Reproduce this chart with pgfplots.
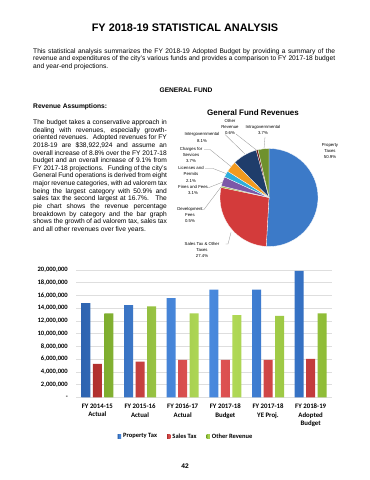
\documentclass[border=0pt]{standalone}
\usepackage{fontspec}
\setmainfont{Liberation Sans}
\newfontfamily\calfont{Carlito}
\usepackage{pgfplots}
\usepackage{pgfplotstable}
\pgfplotsset{compat=1.18}
\definecolor{pbluedark}{HTML}{2E64B0}
\definecolor{pbluemid}{HTML}{4C8DE2}
\definecolor{pblueright}{HTML}{3470C2}
\definecolor{sreddark}{HTML}{B0302E}
\definecolor{sredmid}{HTML}{E25656}
\definecolor{sredright}{HTML}{C23B3B}
\definecolor{ogreendark}{HTML}{7EAD2E}
\definecolor{ogreenmid}{HTML}{B6DD5C}
\definecolor{ogreenright}{HTML}{8EBC36}
\definecolor{pieblue}{HTML}{3C7AC8}
\definecolor{piered}{HTML}{D33B3B}
\definecolor{piedev}{HTML}{A3B84A}
\definecolor{piepurple}{HTML}{7C58A8}
\definecolor{piecyan}{HTML}{2FAEDC}
\definecolor{pieorange}{HTML}{F39A1F}
\definecolor{pienavy}{HTML}{1F3D6B}
\definecolor{piebrown}{HTML}{6E1F1C}
\definecolor{piegreen}{HTML}{6F912D}
\definecolor{gridgray}{HTML}{DEDEDE}
\definecolor{leadgray}{HTML}{909090}

\pgfplotstableread{
x prop sales other
0 14800000 5250000 13200000
1 14500000 5600000 14300000
2 15600000 5870000 13200000
3 16900000 5870000 12900000
4 16900000 5870000 12800000
5 19850000 6030000 13200000
}\bardata

\newcommand\bodyfont{\fontsize{6.65}{7.64}\selectfont}
\newcommand\wl[2]{\node[anchor=base west,inner sep=0pt,font=\bodyfont] at (33,{426.8-7.64*#1}) {\makebox[302pt][s]{#2}};}
\newcommand\wlast[2]{\node[anchor=base west,inner sep=0pt,font=\bodyfont] at (33,{426.8-7.64*#1}) {#2};}
\newcommand\pl[2]{\node[anchor=base west,inner sep=0pt,font=\bodyfont] at (33,{355.5-7.64*#1}) {\makebox[133.7pt][s]{#2}};}
\newcommand\plast[2]{\node[anchor=base west,inner sep=0pt,font=\bodyfont] at (33,{355.5-7.64*#1}) {#2};}
\newcommand\pielab[3]{\node[align=center,inner sep=0pt,font=\fontsize{4.3}{6.2}\selectfont] at (#1,#2) {#3};}

\begin{document}
\begin{tikzpicture}
\begin{scope}[x=1pt,y=1pt]
\useasboundingbox (0,0) rectangle (370,480);
\fill[white] (0,0) rectangle (370,480);
% title
\node[anchor=base,inner sep=0pt,font=\fontsize{10.9}{13}\selectfont\bfseries] at (185,448) {FY 2018-19 STATISTICAL ANALYSIS};
% intro paragraph
\wl{0}{This statistical analysis summarizes the FY 2018-19 Adopted Budget by providing a summary of the}
\wl{1}{revenue and expenditures of the city's various funds and provides a comparison to FY 2017-18 budget}
\wlast{2}{and year-end projections.}
\node[anchor=base,inner sep=0pt,font=\bodyfont\bfseries] at (186,387) {GENERAL FUND};
\node[anchor=base west,inner sep=0pt,font=\bodyfont\bfseries] at (33,371) {Revenue Assumptions:};
% left paragraph
\pl{0}{The budget takes a conservative approach in}
\pl{1}{dealing with revenues, especially growth-}
\pl{2}{oriented revenues. \ Adopted revenues for FY}
\pl{3}{2018-19 are \$38,922,924 and assume an}
\pl{4}{overall increase of 8.8\% over the FY 2017-18}
\pl{5}{budget and an overall increase of 9.1\% from}
\pl{6}{FY 2017-18 projections. \ Funding of the city's}
\pl{7}{General Fund operations is derived from eight}
\pl{8}{major revenue categories, with ad valorem tax}
\pl{9}{being the largest category with 50.9\% and}
\pl{10}{sales tax the second largest at 16.7\%. \ The}
\pl{11}{pie chart shows the revenue percentage}
\pl{12}{breakdown by category and the bar graph}
\pl{13}{shows the growth of ad valorem tax, sales tax}
\plast{14}{and all other revenues over five years.}
\node[anchor=base,inner sep=0pt,font=\fontsize{8}{9}\selectfont\bfseries] at (253,364.4) {General Fund Revenues};
\end{scope}

% pie chart
\begin{axis}[at={(269pt,282.5pt)}, anchor=center, width=98pt, height=98pt, scale only axis,
  hide axis, xmin=-1, xmax=1, ymin=-1, ymax=1, clip=false]
\fill[pieblue,draw=white,line width=0.3pt] (axis cs:0,0) -- ++(90:49pt) arc[start angle=90,end angle=-93.24,radius=49pt] -- cycle;
\fill[piered,draw=white,line width=0.3pt] (axis cs:0,0) -- ++(-93.24:49pt) arc[start angle=-93.24,end angle=-191.88,radius=49pt] -- cycle;
\fill[piedev,draw=white,line width=0.2pt] (axis cs:0,0) -- ++(-191.88:49pt) arc[start angle=-191.88,end angle=-193.68,radius=49pt] -- cycle;
\fill[piepurple,draw=white,line width=0.3pt] (axis cs:0,0) -- ++(-193.68:49pt) arc[start angle=-193.68,end angle=-204.84,radius=49pt] -- cycle;
\fill[piecyan,draw=white,line width=0.3pt] (axis cs:0,0) -- ++(-204.84:49pt) arc[start angle=-204.84,end angle=-212.4,radius=49pt] -- cycle;
\fill[pieorange,draw=white,line width=0.3pt] (axis cs:0,0) -- ++(-212.4:49pt) arc[start angle=-212.4,end angle=-225.72,radius=49pt] -- cycle;
\fill[pienavy,draw=white,line width=0.3pt] (axis cs:0,0) -- ++(-225.72:49pt) arc[start angle=-225.72,end angle=-254.88,radius=49pt] -- cycle;
\fill[piebrown,draw=white,line width=0.2pt] (axis cs:0,0) -- ++(-254.88:49pt) arc[start angle=-254.88,end angle=-257.04,radius=49pt] -- cycle;
\fill[piegreen,draw=white,line width=0.3pt] (axis cs:0,0) -- ++(-257.04:49pt) arc[start angle=-257.04,end angle=-270,radius=49pt] -- cycle;
\end{axis}

\begin{scope}[x=1pt,y=1pt]
% pie labels
\pielab{230}{353}{Other\\Revenue\\0.6\%}
\pielab{263}{350}{Intragovernmental\\3.7\%}
\pielab{202}{342.5}{Intergovernmental\\8.1\%}
\pielab{191}{325}{Charges for\\Services\\3.7\%}
\pielab{191}{305.7}{Licenses and\\Permits\\2.1\%}
\pielab{193}{289.7}{Fines and Fees\\3.1\%}
\pielab{190}{265}{Development\\Fees\\0.5\%}
\pielab{202}{230.3}{Sales Tax \& Other\\Taxes\\27.4\%}
\pielab{330}{328.7}{Property\\Taxes\\50.9\%}
% leader lines
\begin{scope}[leadgray,line width=0.3pt]
\draw (225.5,236) -- (228,236) -- (231,247.5);
\draw (202,270.5) -- (204,270.5) -- (221,293);
\draw (207,292.5) -- (209,292.5) -- (223,298);
\draw (205,311.5) -- (213,311.5) -- (226,306.5);
\draw (204,330.5) -- (210,330.5) -- (231,313.5);
\draw (225,345.5) -- (245,326);
\draw (236,346) -- (257,329.5);
\draw (265,343) -- (264,331.5);
\end{scope}
% page number
\node[anchor=base,inner sep=0pt,font=\bodyfont\bfseries] at (185,12) {42};
\end{scope}

% bar chart
\begin{axis}[at={(76pt,82.7pt)}, anchor=south west, width=256pt, height=127.3pt, scale only axis,
  ybar=2.5pt, bar width=9pt,
  xmin=-0.5, xmax=5.5, ymin=0, ymax=20000000,
  ytick={0,2000000,4000000,6000000,8000000,10000000,12000000,14000000,16000000,18000000,20000000},
  yticklabels={{-},{2,000,000},{4,000,000},{6,000,000},{8,000,000},{10,000,000},{12,000,000},{14,000,000},{16,000,000},{18,000,000},{20,000,000}},
  scaled y ticks=false,
  ymajorgrids, grid style={gridgray,line width=0.5pt},
  axis line style={draw=none}, major tick length=0pt,
  xtick=data,
  xticklabels={{FY 2014-15\\Actual},{FY 2015-16\\Actual},{FY 2016-17\\Actual},{FY 2017-18\\Budget},{FY 2017-18\\YE Proj.},{FY 2018-19\\Adopted\\Budget}},
  xticklabel style={align=center,anchor=north,inner sep=0pt,yshift=-6.7pt,font=\calfont\bfseries\fontsize{6.8}{8.2}\selectfont},
  yticklabel style={anchor=east,inner sep=0pt,xshift=-8pt,font=\calfont\bfseries\fontsize{6.6}{7}\selectfont},
  legend style={at={(0.43,-0.309)},anchor=center,draw=none,fill=none,legend columns=-1,
    font=\calfont\bfseries\fontsize{6.5}{7}\selectfont,inner sep=0pt,
    /tikz/every even column/.append style={column sep=8pt}},
  legend image code/.code={\path[#1,draw=none] (0pt,-1.7pt) rectangle (3.4pt,1.7pt);},
]
\addplot[draw=none,left color=pbluedark,right color=pblueright,middle color=pbluemid] table[x=x,y=prop]{\bardata};
\addplot[draw=none,left color=sreddark,right color=sredright,middle color=sredmid] table[x=x,y=sales]{\bardata};
\addplot[draw=none,left color=ogreendark,right color=ogreenright,middle color=ogreenmid] table[x=x,y=other]{\bardata};
\legend{Property Tax,Sales Tax,Other Revenue}
\end{axis}
\end{tikzpicture}
\end{document}
